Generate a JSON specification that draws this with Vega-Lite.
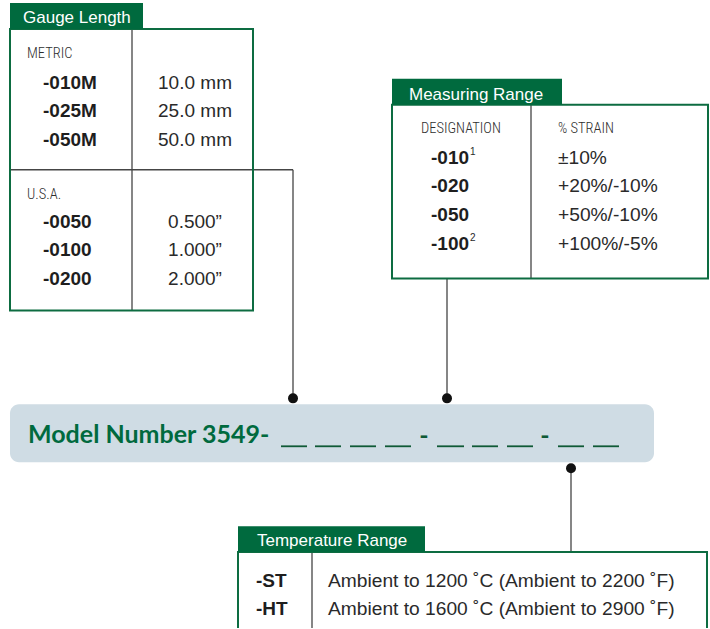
{
  "$schema": "https://vega.github.io/schema/vega-lite/v6.json",
  "width": 710,
  "height": 629,
  "padding": 0,
  "autosize": {"type": "fit", "contains": "padding"},
  "background": "white",
  "config": {"view": {"stroke": null}, "axis": {"disable": true}},
  "datasets": {
    "bar": [{"x": 10, "x2": 654, "y": 405, "y2": 463}],
    "boxes": [
      {"x": 10, "x2": 253, "y": 29, "y2": 311},
      {"x": 392, "x2": 708, "y": 105, "y2": 279},
      {"x": 238, "x2": 707, "y": 553, "y2": 640}
    ],
    "tabs": [
      {"x": 10, "x2": 143, "y": 3, "y2": 29},
      {"x": 392, "x2": 562, "y": 79, "y2": 105},
      {"x": 238, "x2": 425, "y": 527, "y2": 553}
    ],
    "lines": [
      {"x": 132, "x2": 132, "y": 29, "y2": 311},
      {"x": 10, "x2": 293, "y": 170, "y2": 170},
      {"x": 293, "x2": 293, "y": 170, "y2": 398},
      {"x": 531, "x2": 531, "y": 105, "y2": 279},
      {"x": 447, "x2": 447, "y": 279, "y2": 398},
      {"x": 312, "x2": 312, "y": 553, "y2": 629},
      {"x": 571, "x2": 571, "y": 468, "y2": 553}
    ],
    "dots": [
      {"x": 293, "y": 399},
      {"x": 447, "y": 399},
      {"x": 571, "y": 469}
    ],
    "blanks": [
      {"x": 281, "x2": 307, "y": 447},
      {"x": 315, "x2": 341, "y": 447},
      {"x": 350, "x2": 376, "y": 447},
      {"x": 385, "x2": 411, "y": 447},
      {"x": 437, "x2": 464, "y": 447},
      {"x": 472, "x2": 498, "y": 447},
      {"x": 507, "x2": 533, "y": 447},
      {"x": 558, "x2": 584, "y": 447},
      {"x": 593, "x2": 619, "y": 447}
    ],
    "texts": [
      {"style": "tab", "x": 23, "y": 18, "text": "Gauge Length"},
      {"style": "tab", "x": 409, "y": 95, "text": "Measuring Range"},
      {"style": "tab", "x": 257, "y": 542, "text": "Temperature Range"},
      {"style": "head", "x": 27, "y": 54, "text": "METRIC"},
      {"style": "head", "x": 27, "y": 195, "text": "U.S.A."},
      {"style": "head", "x": 421, "y": 129, "text": "DESIGNATION"},
      {"style": "head", "x": 558, "y": 129, "text": "% STRAIN"},
      {"style": "code", "x": 43, "y": 83, "text": "-010M"},
      {"style": "code", "x": 43, "y": 111.5, "text": "-025M"},
      {"style": "code", "x": 43, "y": 140.5, "text": "-050M"},
      {"style": "code", "x": 43, "y": 222.5, "text": "-0050"},
      {"style": "code", "x": 43, "y": 250.5, "text": "-0100"},
      {"style": "code", "x": 43, "y": 279.5, "text": "-0200"},
      {"style": "code", "x": 431, "y": 158, "text": "-010"},
      {"style": "code", "x": 431, "y": 186, "text": "-020"},
      {"style": "code", "x": 431, "y": 215, "text": "-050"},
      {"style": "code", "x": 431, "y": 244.5, "text": "-100"},
      {"style": "code", "x": 256, "y": 582, "text": "-ST"},
      {"style": "code", "x": 256, "y": 610, "text": "-HT"},
      {"style": "valc", "x": 195, "y": 83, "text": "10.0 mm"},
      {"style": "valc", "x": 195, "y": 111.5, "text": "25.0 mm"},
      {"style": "valc", "x": 195, "y": 140.5, "text": "50.0 mm"},
      {"style": "valc", "x": 195, "y": 222.5, "text": "0.500”"},
      {"style": "valc", "x": 195, "y": 250.5, "text": "1.000”"},
      {"style": "valc", "x": 195, "y": 279.5, "text": "2.000”"},
      {"style": "vall", "x": 558, "y": 158, "text": "±10%"},
      {"style": "vall", "x": 558, "y": 186, "text": "+20%/-10%"},
      {"style": "vall", "x": 558, "y": 215, "text": "+50%/-10%"},
      {"style": "vall", "x": 558, "y": 244.5, "text": "+100%/-5%"},
      {"style": "vall", "x": 328, "y": 582, "text": "Ambient to 1200 ˚C (Ambient to 2200 ˚F)"},
      {"style": "vall", "x": 328, "y": 610, "text": "Ambient to 1600 ˚C (Ambient to 2900 ˚F)"},
      {"style": "sup", "x": 470, "y": 152, "text": "1"},
      {"style": "sup", "x": 470, "y": 238, "text": "2"},
      {"style": "model", "x": 28, "y": 436, "text": "Model Number 3549-"},
      {"style": "dash", "x": 424, "y": 437, "text": "-"},
      {"style": "dash", "x": 545, "y": 437, "text": "-"}
    ]
  },
  "encoding": {
    "x": {"field": "x", "type": "quantitative", "axis": null, "scale": {"domain": [0, 710], "nice": false, "zero": false}},
    "y": {"field": "y", "type": "quantitative", "axis": null, "scale": {"domain": [0, 629], "nice": false, "zero": false, "reverse": true}}
  },
  "layer": [
    {
      "data": {"name": "bar"},
      "mark": {"type": "rect", "fill": "#CFDCE4", "cornerRadius": 9},
      "encoding": {"x2": {"field": "x2"}, "y2": {"field": "y2"}}
    },
    {
      "data": {"name": "lines"},
      "mark": {"type": "rule", "color": "#454545", "strokeWidth": 1.3},
      "encoding": {"x2": {"field": "x2"}, "y2": {"field": "y2"}}
    },
    {
      "data": {"name": "boxes"},
      "mark": {"type": "rect", "fill": "transparent", "stroke": "#0D6C41", "strokeWidth": 2, "clip": true},
      "encoding": {"x2": {"field": "x2"}, "y2": {"field": "y2"}}
    },
    {
      "data": {"name": "tabs"},
      "mark": {"type": "rect", "fill": "#006A3E"},
      "encoding": {"x2": {"field": "x2"}, "y2": {"field": "y2"}}
    },
    {
      "data": {"name": "dots"},
      "mark": {"type": "point", "shape": "circle", "filled": true, "color": "#111111", "opacity": 1, "size": 100}
    },
    {
      "data": {"name": "blanks"},
      "mark": {"type": "rule", "color": "#0F5A36", "strokeWidth": 1.8},
      "encoding": {"x2": {"field": "x2"}}
    },
    {
      "data": {"name": "texts"},
      "transform": [{"filter": "datum.style == 'tab'"}],
      "mark": {"type": "text", "align": "left", "baseline": "middle", "font": "Liberation Sans", "fontSize": 17, "color": "white"},
      "encoding": {"text": {"field": "text"}}
    },
    {
      "data": {"name": "texts"},
      "transform": [{"filter": "datum.style == 'head'"}],
      "mark": {"type": "text", "align": "left", "baseline": "middle", "font": "Roboto Condensed, DejaVu Sans Condensed, Roboto, sans-serif", "fontWeight": 300, "fontSize": 14.5, "color": "#2E2E2E"},
      "encoding": {"text": {"field": "text"}}
    },
    {
      "data": {"name": "texts"},
      "transform": [{"filter": "datum.style == 'code'"}],
      "mark": {"type": "text", "align": "left", "baseline": "middle", "font": "Liberation Sans", "fontWeight": "bold", "fontSize": 19, "color": "#1E1E1E"},
      "encoding": {"text": {"field": "text"}}
    },
    {
      "data": {"name": "texts"},
      "transform": [{"filter": "datum.style == 'valc'"}],
      "mark": {"type": "text", "align": "center", "baseline": "middle", "font": "Liberation Sans", "fontSize": 19, "color": "#2A2A2A"},
      "encoding": {"text": {"field": "text"}}
    },
    {
      "data": {"name": "texts"},
      "transform": [{"filter": "datum.style == 'vall'"}],
      "mark": {"type": "text", "align": "left", "baseline": "middle", "font": "Liberation Sans", "fontSize": 19.2, "color": "#2A2A2A"},
      "encoding": {"text": {"field": "text"}}
    },
    {
      "data": {"name": "texts"},
      "transform": [{"filter": "datum.style == 'sup'"}],
      "mark": {"type": "text", "align": "left", "baseline": "middle", "font": "Liberation Sans", "fontSize": 10, "color": "#2A2A2A"},
      "encoding": {"text": {"field": "text"}}
    },
    {
      "data": {"name": "texts"},
      "transform": [{"filter": "datum.style == 'model'"}],
      "mark": {"type": "text", "align": "left", "baseline": "middle", "font": "Lato", "fontWeight": "bold", "fontSize": 25, "color": "#006A3E"},
      "encoding": {"text": {"field": "text"}}
    },
    {
      "data": {"name": "texts"},
      "transform": [{"filter": "datum.style == 'dash'"}],
      "mark": {"type": "text", "align": "center", "baseline": "middle", "font": "Lato", "fontWeight": "bold", "fontSize": 25, "color": "#0F5A36"},
      "encoding": {"text": {"field": "text"}}
    }
  ]
}
